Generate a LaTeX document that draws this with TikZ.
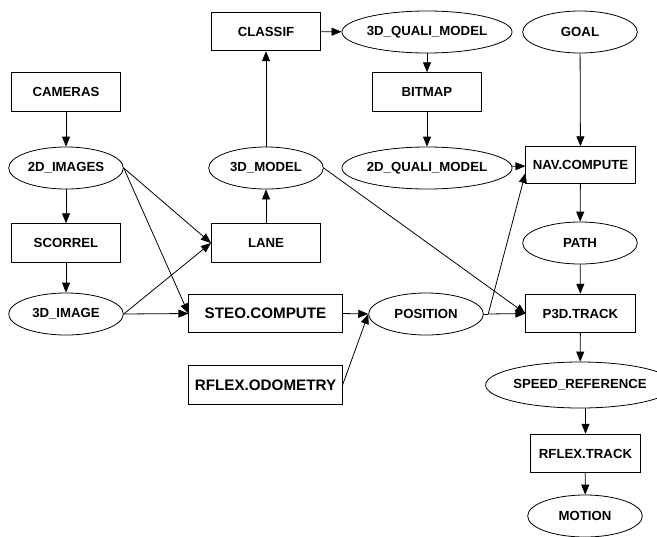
\documentclass[tikz,border=0pt]{standalone}
\usepackage{fontspec}
\setmainfont{Liberation Sans}
\usetikzlibrary{shapes.geometric,arrows.meta,calc}
\tikzset{
  base/.style={draw=black, line width=0.6pt, inner sep=0pt, font=\bfseries\fontsize{9.9pt}{11pt}\selectfont},
  box/.style={base, rectangle, minimum width=82pt, minimum height=29pt},
  widebox/.style={box, minimum width=115pt, font=\bfseries\fontsize{11.4pt}{13pt}\selectfont},
  oval/.style={base, ellipse, minimum width=86pt, minimum height=31.5pt},
  wideoval/.style={oval, minimum width=100pt},
  conn/.style={line width=0.6pt, -{Triangle[length=7.5pt,width=6pt]}},
}
\begin{document}
\begin{tikzpicture}[x=0.75pt, y=-0.75pt]
\useasboundingbox (0,0) rectangle (657,536);
\node[box] (cameras) at (66,92) {CAMERAS};
\node[oval] (img2d) at (66,168) {2D\_IMAGES};
\node[box] (scorrel) at (66,243) {SCORREL};
\node[oval] (img3d) at (66,314) {3D\_IMAGE};
\node[box] (classif) at (266,31.5) {CLASSIF};
\node[oval] (model3d) at (266,168) {3D\_MODEL};
\node[box] (lane) at (266,243) {LANE};
\node[widebox] (steo) at (265.5,313.5) {STEO.COMPUTE};
\node[widebox] (odom) at (265.5,385) {RFLEX.ODOMETRY};
\node[wideoval] (quali3d) at (427,32) {3D\_QUALI\_MODEL};
\node[box] (bitmap) at (427,92) {BITMAP};
\node[wideoval] (quali2d) at (427,168) {2D\_QUALI\_MODEL};
\node[oval] (position) at (426,314) {POSITION};
\node[oval] (goal) at (580,32) {GOAL};
\node[box, minimum height=27.5pt] (nav) at (580.5,165) {NAV.COMPUTE};
\node[oval] (path) at (580,243) {PATH};
\node[box] (p3d) at (580.5,313.5) {P3D.TRACK};
\node[oval, minimum width=115pt, minimum height=34.5pt] (speed) at (580,385) {SPEED\_REFERENCE};
\node[box] (rtrack) at (585.5,453.5) {RFLEX.TRACK};
\node[oval] (motion) at (585,516) {MOTION};
\coordinate (split) at ($(position.east)+(4.5,0)$);
\coordinate (navin) at ($(nav.west)+(0,8)$);

\draw[conn] (cameras) -- (img2d);
\draw[conn] (img2d) -- (scorrel);
\draw[conn] (scorrel) -- (img3d);
\draw[conn] (img2d.east) -- (lane.west);
\draw[conn] (img2d.east) -- (steo.west);
\draw[conn] (img3d.east) -- (lane.west);
\draw[conn] (img3d.east) -- (steo.west);
\draw[conn] (lane) -- (model3d);
\draw[conn] (model3d) -- (classif);
\draw[conn] (classif) -- (quali3d);
\draw[conn] (quali3d) -- (bitmap);
\draw[conn] (bitmap) -- (quali2d);
\draw[conn] (quali2d) -- (nav);
\draw[conn] (goal) -- (nav);
\draw[conn] (nav) -- (path);
\draw[conn] (path) -- (p3d);
\draw[conn] (model3d.east) -- (p3d.west);
\draw[conn] (steo.east) -- (position.west);
\draw[conn] (odom.east) -- (position.west);
\draw[line width=0.6pt] (position.east) -- (split);
\draw[conn] (split) -- (p3d.west);
\draw[conn] (split) -- (navin);
\draw[conn] (p3d) -- (speed);
\draw[conn] (speed.south -| rtrack) -- (rtrack);
\draw[conn] (rtrack) -- (motion);
\end{tikzpicture}
\end{document}
